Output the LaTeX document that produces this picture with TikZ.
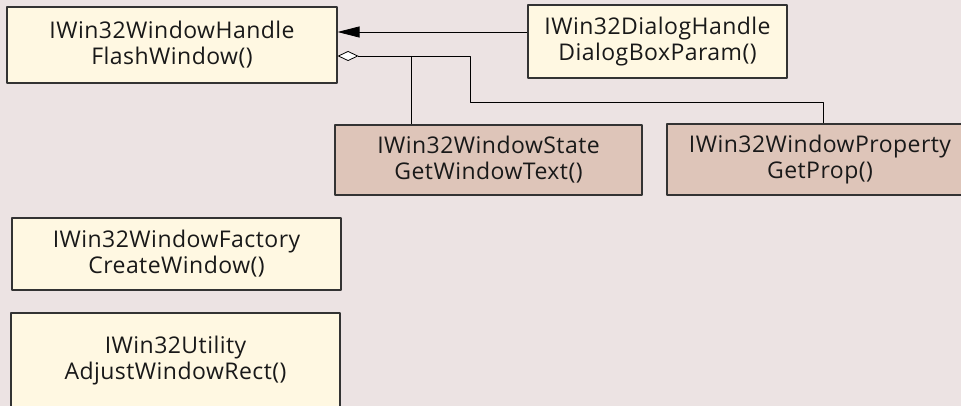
\documentclass[tikz,border=0pt]{standalone}
\usepackage{fontspec}
\setmainfont{Open Sans}[LetterSpace=2]
\usetikzlibrary{arrows.meta}
\definecolor{marble}{RGB}{236,227,227}
\definecolor{cream}{RGB}{255,248,226}
\definecolor{tan}{RGB}{222,197,185}
\begin{document}
\begin{tikzpicture}[x=1pt, y=-1pt, line join=round, >=Triangle,
	font=\fontsize{23}{26}\selectfont,
	cls/.style={draw=black!80, line width=1.1pt, fill=cream, align=center, inner sep=0pt, text=black!90},
	impl/.style={cls, fill=tan},
	link/.style={line width=0.8pt}]
		\useasboundingbox (0,0) rectangle (961,406);
		\fill[marble] (0,0) rectangle (961,406);
		% interfaces
		\node[cls, minimum width=330pt, minimum height=76pt] (handle) at (172,45) {IWin32WindowHandle\\FlashWindow()};
		\node[cls, minimum width=259pt, minimum height=73pt] (dialog) at (657.5,41.5) {IWin32DialogHandle\\DialogBoxParam()};
		\node[impl, minimum width=307pt, minimum height=70pt] (state) at (488.5,160) {IWin32WindowState\\GetWindowText()};
		\node[impl, minimum width=306pt, minimum height=71pt] (property) at (820,159.5) {IWin32WindowProperty\\GetProp()};
		\node[cls, minimum width=329pt, minimum height=72pt] (factory) at (176.5,254) {IWin32WindowFactory\\CreateWindow()};
		\node[cls, minimum width=329pt, minimum height=96pt] (utility) at (175.5,361) {IWin32Utility\\AdjustWindowRect()};
		% inheritance
		\coordinate (inh) at ([yshift=13pt]handle.east);
		\draw[link, -{Triangle[length=22pt, width=11pt]}] (inh -| dialog.west) -- (inh);
		% aggregation
		\coordinate (agg) at ([yshift=-11pt]handle.east);
		\coordinate (fork) at (411,56);
		\coordinate (bend) at (823,102);
		\draw[link, {Diamond[open, length=21pt, width=10pt, fill=white]}-] (agg) -- (470,56) |- (bend) -- (bend |- property.north);
		\draw[link] (fork) -- (fork |- state.north);
\end{tikzpicture}
\end{document}
